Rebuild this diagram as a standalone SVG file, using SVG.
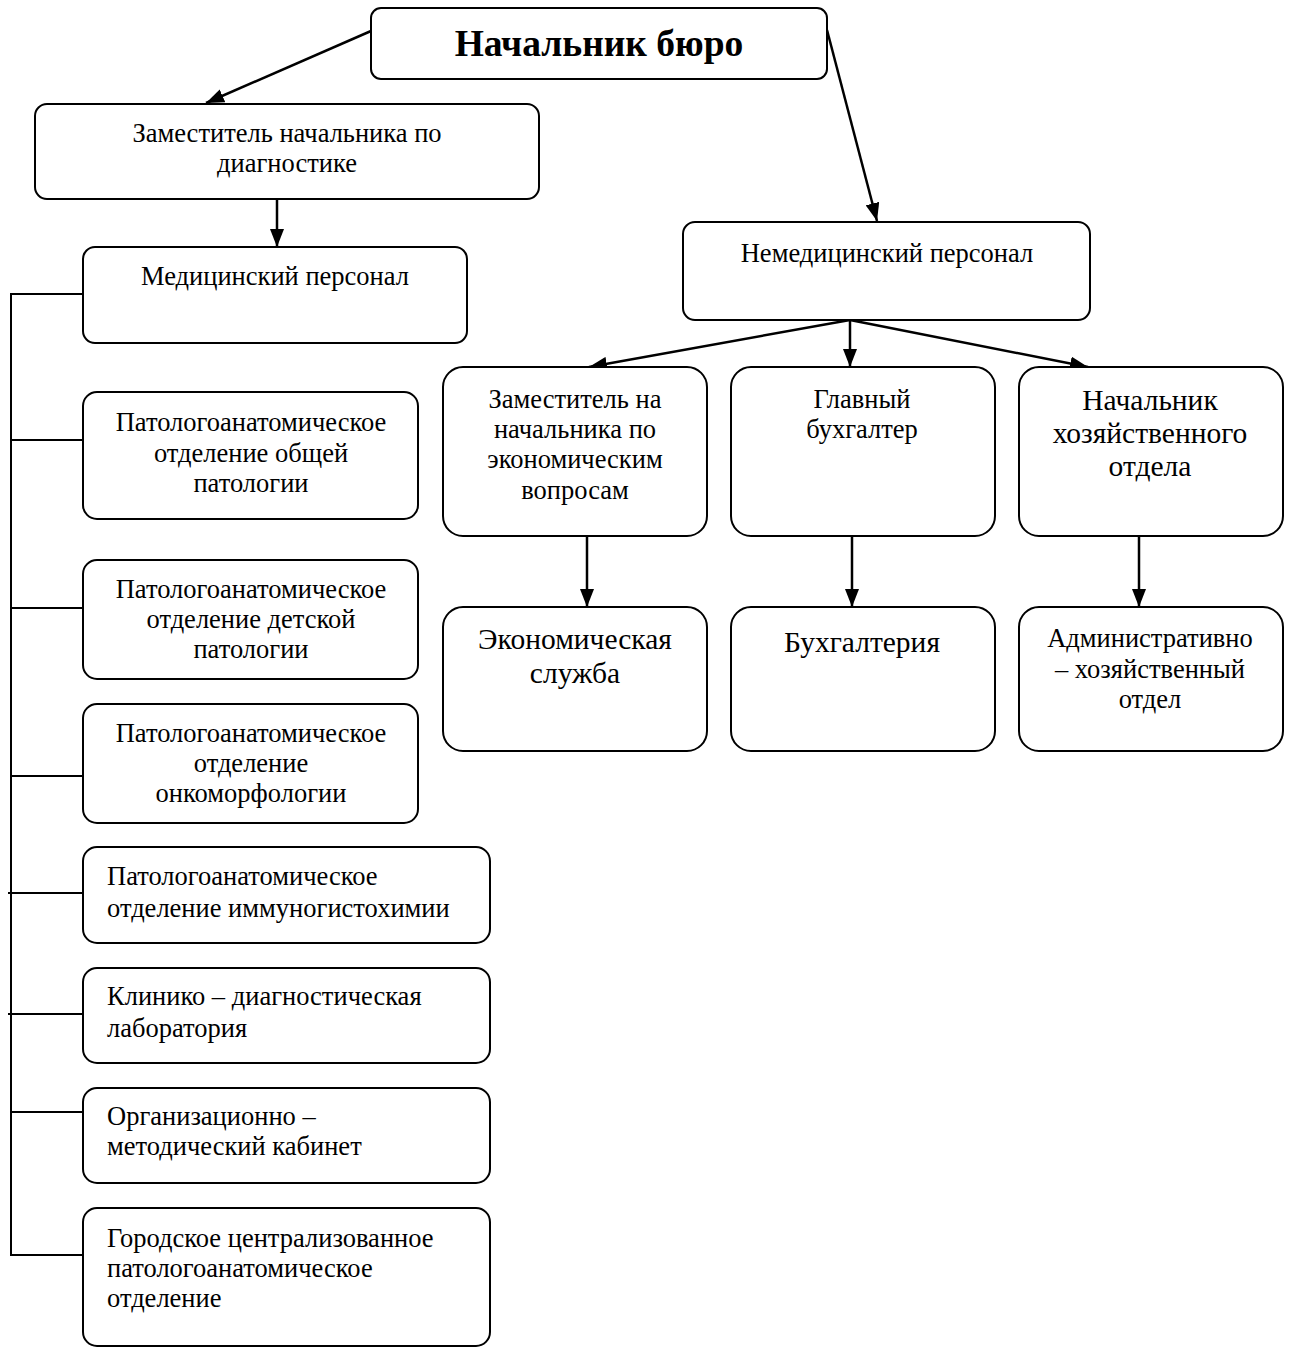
<svg xmlns="http://www.w3.org/2000/svg" width="1291" height="1349" viewBox="0 0 1291 1349">
<style>
.box{fill:#fff;stroke:#000;stroke-width:2}
.t{font-family:"Liberation Serif","Times New Roman",serif;font-size:26.5px;fill:#000}
.c{text-anchor:middle}
.big{font-size:29.5px}
.con{stroke:#000;stroke-width:2;fill:none}
.arr{stroke:#000;stroke-width:2.5;fill:none;marker-end:url(#ah)}
</style>
<defs>
<marker id="ah" markerUnits="userSpaceOnUse" markerWidth="18" markerHeight="14" viewBox="0 0 18 14" refX="18" refY="7" orient="auto">
<path d="M0,0 L18,7 L0,14 z" fill="#000"/>
</marker>
</defs>
<rect width="1291" height="1349" fill="#fff"/>
<g id="connectors">
<line class="arr" x1="371" y1="31" x2="206" y2="103"/>
<line class="arr" x1="827" y1="30" x2="877" y2="221"/>
<line class="arr" x1="277" y1="199" x2="277" y2="247"/>
<line class="arr" x1="850" y1="320" x2="589" y2="367"/>
<line class="arr" x1="850" y1="320" x2="850" y2="367"/>
<line class="arr" x1="850" y1="320" x2="1088" y2="367"/>
<line class="arr" x1="587" y1="536" x2="587" y2="607"/>
<line class="arr" x1="852" y1="536" x2="852" y2="607"/>
<line class="arr" x1="1139" y1="536" x2="1139" y2="607"/>
<path class="con" d="M83,294 H11 V1255 H83"/>
<line class="con" x1="11" y1="440" x2="83" y2="440"/>
<line class="con" x1="11" y1="608" x2="83" y2="608"/>
<line class="con" x1="11" y1="776" x2="83" y2="776"/>
<line class="con" x1="8" y1="893" x2="83" y2="893"/>
<line class="con" x1="8" y1="1014" x2="83" y2="1014"/>
<line class="con" x1="11" y1="1112" x2="83" y2="1112"/>
</g>
<g id="n_head">
<rect class="box" x="371" y="8" width="456" height="71" rx="10"/>
<text class="t c" x="599" y="56" style="font-size:37.5px;font-weight:bold">Начальник бюро</text>
</g>
<g id="n_zamdiag">
<rect class="box" x="35" y="104" width="504" height="95" rx="12"/>
<text class="t c" x="287" y="142">Заместитель начальника по</text>
<text class="t c" x="287" y="172">диагностике</text>
</g>
<g id="n_med">
<rect class="box" x="83" y="247" width="384" height="96" rx="12"/>
<text class="t c" x="275" y="285">Медицинский персонал</text>
</g>
<g id="n_nonmed">
<rect class="box" x="683" y="222" width="407" height="98" rx="12"/>
<text class="t c" x="887" y="262">Немедицинский персонал</text>
</g>
<g id="n_zamecon">
<rect class="box" x="443" y="367" width="264" height="169" rx="20"/>
<text class="t c" x="575" y="408">Заместитель на</text>
<text class="t c" x="575" y="438">начальника по</text>
<text class="t c" x="575" y="468">экономическим</text>
<text class="t c" x="575" y="499">вопросам</text>
</g>
<g id="n_glavbuh">
<rect class="box" x="731" y="367" width="264" height="169" rx="20"/>
<text class="t c" x="862" y="408">Главный</text>
<text class="t c" x="862" y="438">бухгалтер</text>
</g>
<g id="n_nachhoz">
<rect class="box" x="1019" y="367" width="264" height="169" rx="20"/>
<text class="t c big" x="1150" y="410">Начальник</text>
<text class="t c big" x="1150" y="443">хозяйственного</text>
<text class="t c big" x="1150" y="476">отдела</text>
</g>
<g id="n_econ">
<rect class="box" x="443" y="607" width="264" height="144" rx="20"/>
<text class="t c big" x="575" y="649">Экономическая</text>
<text class="t c big" x="575" y="683">служба</text>
</g>
<g id="n_buh">
<rect class="box" x="731" y="607" width="264" height="144" rx="20"/>
<text class="t c big" x="862" y="652">Бухгалтерия</text>
</g>
<g id="n_aho">
<rect class="box" x="1019" y="607" width="264" height="144" rx="20"/>
<text class="t c" x="1150" y="647">Административно</text>
<text class="t c" x="1150" y="678">– хозяйственный</text>
<text class="t c" x="1150" y="708">отдел</text>
</g>
<g id="n_pao1">
<rect class="box" x="83" y="392" width="335" height="127" rx="14"/>
<text class="t c" x="251" y="431">Патологоанатомическое</text>
<text class="t c" x="251" y="462">отделение общей</text>
<text class="t c" x="251" y="492">патологии</text>
</g>
<g id="n_pao2">
<rect class="box" x="83" y="560" width="335" height="119" rx="14"/>
<text class="t c" x="251" y="598">Патологоанатомическое</text>
<text class="t c" x="251" y="628">отделение детской</text>
<text class="t c" x="251" y="658">патологии</text>
</g>
<g id="n_pao3">
<rect class="box" x="83" y="704" width="335" height="119" rx="14"/>
<text class="t c" x="251" y="742">Патологоанатомическое</text>
<text class="t c" x="251" y="772">отделение</text>
<text class="t c" x="251" y="802">онкоморфологии</text>
</g>
<g id="n_pao4">
<rect class="box" x="83" y="847" width="407" height="96" rx="14"/>
<text class="t" x="107" y="885">Патологоанатомическое</text>
<text class="t" x="107" y="917">отделение иммуногистохимии</text>
</g>
<g id="n_kdl">
<rect class="box" x="83" y="968" width="407" height="95" rx="14"/>
<text class="t" x="107" y="1005">Клинико – диагностическая</text>
<text class="t" x="107" y="1037">лаборатория</text>
</g>
<g id="n_omk">
<rect class="box" x="83" y="1088" width="407" height="95" rx="14"/>
<text class="t" x="107" y="1125">Организационно –</text>
<text class="t" x="107" y="1155">методический кабинет</text>
</g>
<g id="n_gcpao">
<rect class="box" x="83" y="1208" width="407" height="138" rx="14"/>
<text class="t" x="107" y="1247">Городское централизованное</text>
<text class="t" x="107" y="1277">патологоанатомическое</text>
<text class="t" x="107" y="1307">отделение</text>
</g>
</svg>
